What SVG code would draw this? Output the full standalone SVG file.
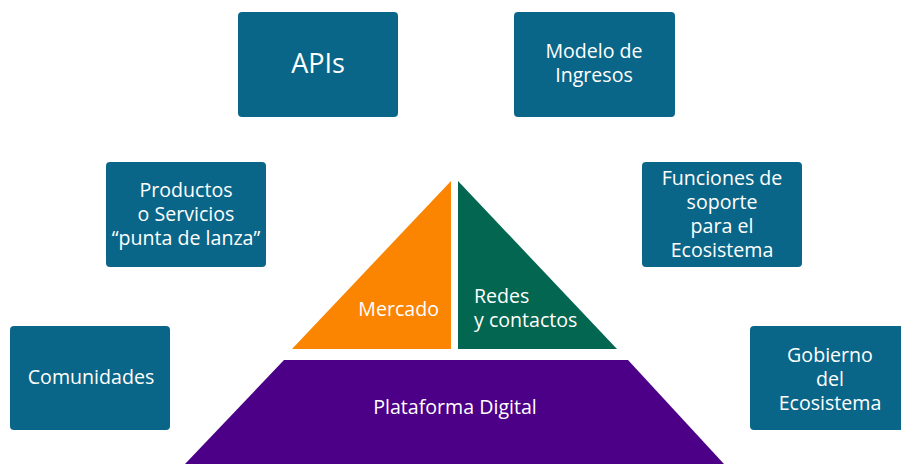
<svg xmlns="http://www.w3.org/2000/svg" width="901" height="464" viewBox="0 0 901 464">
<style>
.box{fill:#0a6688;}
.t{font-family:"Open Sans","Noto Sans",sans-serif;font-size:19.6px;fill:#ffffff;text-anchor:middle;}
.big{font-size:27px;}
.l{text-anchor:start;}
.e{text-anchor:end;}
</style>
<rect width="901" height="464" fill="#ffffff"/>
<g id="apis"><rect class="box" x="238" y="12" width="160" height="105" rx="4"/><text class="t big" x="318" y="73">APIs</text></g>
<g id="modelo"><rect class="box" x="514" y="12" width="161" height="105" rx="4"/><text class="t" x="594" y="58">Modelo de</text><text class="t" x="594" y="82">Ingresos</text></g>
<g id="productos"><rect class="box" x="106" y="162" width="160" height="105" rx="4"/><text class="t" x="186" y="197">Productos</text><text class="t" x="186" y="221">o Servicios</text><text class="t" x="186" y="245">“punta de lanza”</text></g>
<g id="funciones"><rect class="box" x="642" y="162" width="160" height="105" rx="4"/><text class="t" x="722" y="185">Funciones de</text><text class="t" x="722" y="209">soporte</text><text class="t" x="722" y="233">para el</text><text class="t" x="722" y="257">Ecosistema</text></g>
<g id="comunidades"><rect class="box" x="10" y="326" width="160" height="104" rx="4"/><text class="t" x="91" y="384">Comunidades</text></g>
<g id="gobierno"><rect class="box" x="750" y="326" width="164" height="104" rx="4"/><text class="t" x="830" y="362">Gobierno</text><text class="t" x="830" y="386">del</text><text class="t" x="830" y="410">Ecosistema</text></g>
<g id="mercado"><polygon points="292,349 451,181 451,349" fill="#fb8500"/><text class="t e" x="439" y="316">Mercado</text></g>
<g id="redes"><polygon points="458,181 458,349 617,349" fill="#036650"/><text class="t l" x="474" y="303">Redes</text><text class="t l" x="474" y="327">y contactos</text></g>
<g id="plataforma"><polygon points="284,360 628,360 724,464 185,464" fill="#4b0087"/><text class="t" x="455" y="414">Plataforma Digital</text></g>
<g id="connectors"></g>
</svg>
